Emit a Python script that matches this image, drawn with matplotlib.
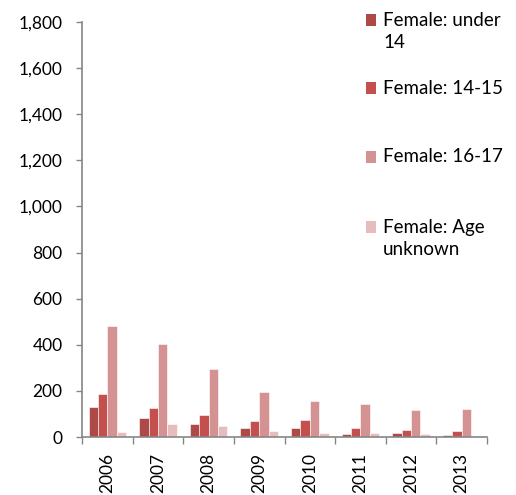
import matplotlib.pyplot as plt
import numpy as np
from matplotlib.patches import Rectangle
from matplotlib.ticker import FuncFormatter, FixedLocator

plt.rcParams['font.family'] = ['Lato', 'DejaVu Sans']

years = ['2006', '2007', '2008', '2009', '2010', '2011', '2012', '2013']
under_14 = [130, 81, 58, 40, 39, 13, 17, 10]
age_14_15 = [185, 126, 97, 69, 75, 40, 32, 26]
age_16_17 = [481, 402, 294, 195, 155, 145, 118, 121]
age_unknown = [22, 56, 48, 26, 19, 16, 14, 2]

series_labels = ['Female: under\n14', 'Female: 14-15', 'Female: 16-17', 'Female: Age\nunknown']
colors = ['#AD4A48', '#C4504E', '#D49392', '#E6BDBC']
series = [under_14, age_14_15, age_16_17, age_unknown]

W, H = 516, 495
fig = plt.figure(figsize=(W / 100, H / 100), dpi=100)
ax = fig.add_axes([82 / W, 1 - 437 / H, (487 - 82) / W, (437 - 22) / H])

x = np.arange(len(years))
bw = 0.185
for k, (vals, col) in enumerate(zip(series, colors)):
    ax.bar(x + (k - 1.5) * bw, vals, width=bw, color=col,
           edgecolor='white', linewidth=0.4, zorder=2)

ax.set_xlim(-0.5, len(years) - 0.5)
ax.set_ylim(0, 1800)
ax.set_yticks(np.arange(0, 1801, 200))
ax.yaxis.set_major_formatter(FuncFormatter(lambda v, p: f'{int(v):,}'))

ax.set_xticks(x)
ax.set_xticklabels(years, rotation=90)
ax.xaxis.set_minor_locator(FixedLocator(np.arange(-0.5, len(years), 1.0)))
ax.tick_params(axis='x', which='major', length=0, pad=11.5, labelsize=12.5, colors='black')
ax.tick_params(axis='x', which='minor', length=5, width=1, color='#868686', direction='out')
ax.tick_params(axis='y', length=4, width=1, color='#868686', direction='out',
               labelsize=12.5, pad=10)

for s in ['top', 'right']:
    ax.spines[s].set_visible(False)
for s in ['left', 'bottom']:
    ax.spines[s].set_color('#868686')
    ax.spines[s].set_linewidth(1.2)

# legend entries placed on the right
entry_y = [20, 88, 157, 227]
for lab, col, yy in zip(series_labels, colors, entry_y):
    fig.add_artist(Rectangle((366 / W, 1 - (yy + 5.5) / H), 10 / W, 11 / H,
                             transform=fig.transFigure, facecolor=col,
                             edgecolor='none'))
    fig.text(383 / W, 1 - (yy - 8.5) / H, lab, fontsize=13.5, va='top', ha='left',
             linespacing=1.38)

fig.savefig('out.png', dpi=100)
